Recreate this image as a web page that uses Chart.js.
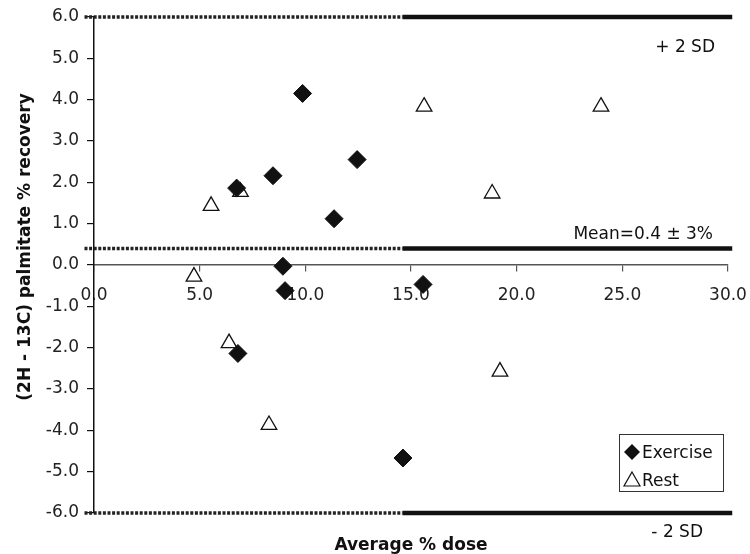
<!DOCTYPE html>
<html>
<head>
<meta charset="utf-8">
<title>Average % dose vs (2H - 13C) palmitate % recovery</title>
<script src="https://cdn.jsdelivr.net/npm/chart.js@4.4.0/dist/chart.umd.min.js"></script>
<style>
  html, body { margin: 0; padding: 0; background: #fff; }
  #wrap { width: 750px; height: 554px; }
</style>
</head>
<body>
<div id="wrap"><canvas id="chart" width="750" height="554"></canvas></div>
<script>
// Difference plot: (2H - 13C) palmitate recovery against average dose

const exerciseX = [9.87, 6.75, 8.47, 12.45, 11.36, 8.94, 9.04, 15.57, 6.81, 14.62];
const exerciseY = [4.15, 1.86, 2.16, 2.55, 1.12, -0.03, -0.62, -0.47, -2.14, -4.67];

const restX = [5.54, 6.93, 4.73, 6.39, 8.28, 15.62, 23.99, 18.84, 19.21];
const restY = [1.43, 1.77, -0.28, -1.89, -3.87, 3.83, 3.83, 1.73, -2.58];

const seriesNames = ['Exercise', 'Rest'];

// limits: +2 SD, mean, -2 SD
const limitLevels = [6.0, 0.4, -6.0];
const limitLabels = ['+ 2 SD', 'Mean=0.4 \u00b1 3%', '- 2 SD'];
const limitDottedFrom = -0.45;
const limitSolidFrom = 14.6;
const limitSolidTo = 30.2;

const xMin = 0, xMax = 30, xStep = 5;
const yMin = -6, yMax = 6, yStep = 1;

const xTitle = 'Average % dose';
const yTitle = '(2H - 13C) palmitate % recovery';

const FONT = "'DejaVu Sans', Verdana, sans-serif";

function toPoints(xs, ys) {
  return xs.map((x, i) => ({ x: x, y: ys[i] }));
}

const datasets = [
  {
    label: seriesNames[0],
    data: toPoints(exerciseX, exerciseY),
    pointStyle: 'rectRot',
    pointRadius: 9,
    pointHoverRadius: 9,
    backgroundColor: '#111',
    borderColor: '#111',
    borderWidth: 1,
    order: 0
  },
  {
    label: seriesNames[1],
    data: toPoints(restX, restY),
    pointStyle: 'triangle',
    pointRadius: 9,
    pointHoverRadius: 9,
    backgroundColor: '#fff',
    borderColor: '#111',
    borderWidth: 1.3,
    order: 1
  }
];

limitLevels.forEach(level => {
  datasets.push({
    label: 'dotted',
    data: [{ x: limitDottedFrom, y: level }, { x: limitSolidFrom, y: level }],
    showLine: true,
    pointRadius: 0,
    borderColor: '#222',
    borderWidth: 3.5,
    borderDash: [3, 1.6],
    clip: false,
    order: 5
  });
  datasets.push({
    label: 'solid',
    data: [{ x: limitSolidFrom, y: level }, { x: limitSolidTo, y: level }],
    showLine: true,
    pointRadius: 0,
    borderColor: '#111',
    borderWidth: 4.5,
    clip: false,
    order: 5
  });
});

// Axis titles, limit labels and the boxed legend
const annotationsPlugin = {
  id: 'annotations',
  afterDraw(chart) {
    const ctx = chart.ctx;
    const area = chart.chartArea;
    const ys = chart.scales.y;

    ctx.save();
    ctx.fillStyle = '#111';

    // axis titles
    ctx.font = 'bold 17px ' + FONT;
    ctx.textAlign = 'center';
    ctx.textBaseline = 'alphabetic';
    ctx.fillText(xTitle, (area.left + area.right) / 2, 550);

    ctx.save();
    ctx.translate(30, (area.top + area.bottom) / 2 - 18);
    ctx.rotate(-Math.PI / 2);
    ctx.fillText(yTitle, 0, 0);
    ctx.restore();

    // limit labels
    ctx.font = '17px ' + FONT;
    ctx.textAlign = 'right';
    ctx.fillText(limitLabels[0], area.right - 13, ys.getPixelForValue(limitLevels[0]) + 35);
    ctx.fillText(limitLabels[1], area.right - 15, ys.getPixelForValue(limitLevels[1]) - 9);
    ctx.fillText(limitLabels[2], area.right - 25, ys.getPixelForValue(limitLevels[2]) + 24);

    // legend box
    const bw = 104, bh = 57;
    const bx = area.right - 5 - bw;
    const by = ys.getPixelForValue(limitLevels[2]) - 22 - bh;
    ctx.strokeStyle = '#333';
    ctx.lineWidth = 1;
    ctx.strokeRect(Math.round(bx) + 0.5, Math.round(by) + 0.5, bw, bh);

    const mx = bx + 13;
    // diamond
    const dy = by + 18;
    ctx.beginPath();
    ctx.moveTo(mx, dy - 8);
    ctx.lineTo(mx + 8, dy);
    ctx.lineTo(mx, dy + 8);
    ctx.lineTo(mx - 8, dy);
    ctx.closePath();
    ctx.fillStyle = '#111';
    ctx.fill();
    // triangle
    const ty = by + 46;
    ctx.beginPath();
    ctx.moveTo(mx, ty - 8);
    ctx.lineTo(mx + 8, ty + 6);
    ctx.lineTo(mx - 8, ty + 6);
    ctx.closePath();
    ctx.fillStyle = '#fff';
    ctx.fill();
    ctx.strokeStyle = '#111';
    ctx.lineWidth = 1.2;
    ctx.stroke();

    ctx.fillStyle = '#111';
    ctx.textAlign = 'left';
    ctx.fillText(seriesNames[0], mx + 10, dy + 6);
    ctx.fillText(seriesNames[1], mx + 10, ty + 6);

    ctx.restore();
  }
};

new Chart(document.getElementById('chart'), {
  type: 'scatter',
  data: { datasets: datasets },
  options: {
    responsive: false,
    animation: false,
    events: [],
    layout: {
      padding: { top: 17, right: 22, bottom: 41, left: 0 }
    },
    plugins: {
      legend: { display: false },
      tooltip: { enabled: false }
    },
    scales: {
      x: {
        type: 'linear',
        min: xMin,
        max: xMax,
        position: { y: 0 },
        afterFit: scale => { scale.paddingLeft = 0; scale.paddingRight = 0; },
        border: { display: true, color: '#555', width: 1.5 },
        grid: { drawOnChartArea: false, drawTicks: true, tickLength: 6, color: '#555', lineWidth: 1.2 },
        ticks: {
          stepSize: xStep,
          padding: 14,
          color: '#222',
          font: { family: FONT, size: 17 },
          maxRotation: 0,
          callback: v => Number(v).toFixed(1)
        }
      },
      y: {
        type: 'linear',
        min: yMin,
        max: yMax,
        position: 'left',
        afterFit: scale => { scale.width = 94; scale.paddingTop = 0; scale.paddingBottom = 0; },
        border: { display: true, color: '#111', width: 1.5 },
        grid: { drawOnChartArea: false, drawTicks: true, tickLength: 7, color: '#111', lineWidth: 1.2 },
        ticks: {
          stepSize: yStep,
          padding: 8,
          color: '#222',
          font: { family: FONT, size: 17 },
          callback: v => Number(v).toFixed(1)
        }
      }
    }
  },
  plugins: [annotationsPlugin]
});
</script>
</body>
</html>
